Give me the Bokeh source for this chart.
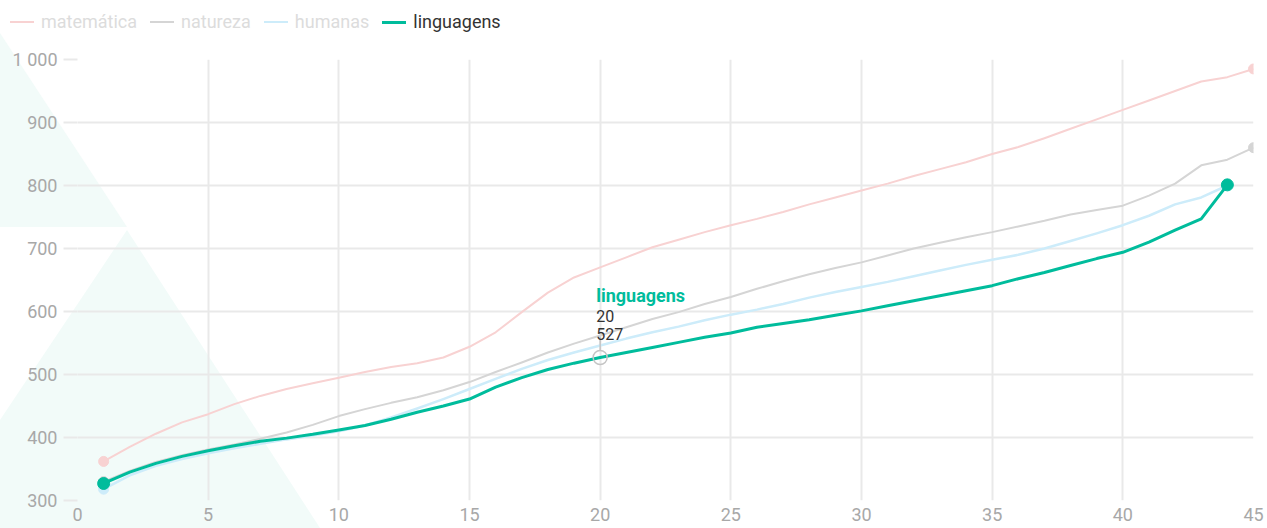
from urllib.parse import quote
from bokeh.plotting import figure
from bokeh.layouts import column
from bokeh.models import (Label, FixedTicker, Range1d, InlineStyleSheet, Div)
from bokeh.embed import file_html
from bokeh.resources import INLINE

# ---------------- data ----------------
x_all = list(range(1, 46))
matematica = [362, 385, 406, 424, 437, 453, 466, 477, 486, 495,
              504, 512, 518, 527, 544, 567, 599, 630, 654, 670,
              686, 702, 714, 726, 737, 747, 758, 770, 781, 792,
              803, 815, 826, 837, 850, 861, 875, 890, 905, 920,
              935, 950, 965, 972, 985]
natureza = [330, 347, 361, 372, 381, 389, 398, 408, 420, 434,
            445, 455, 464, 475, 488, 504, 519, 535, 549, 562,
            575, 588, 599, 612, 623, 636, 648, 659, 669, 678,
            689, 700, 709, 718, 726, 735, 744, 754, 761, 768,
            784, 803, 832, 841, 860]
humanas = [318, 340, 355, 366, 375, 383, 390, 397, 403, 410,
           419, 432, 446, 461, 477, 493, 509, 523, 535, 546,
           557, 567, 576, 586, 595, 603, 612, 622, 631, 639,
           647, 656, 665, 674, 682, 690, 700, 712, 724, 737,
           752, 770, 781, 800]
linguagens = [327, 345, 359, 370, 379, 387, 394, 399, 405, 412,
              419, 429, 440, 450, 461, 480, 495, 508, 518, 527,
              535, 543, 551, 559, 566, 575, 581, 587, 594, 601,
              609, 617, 625, 633, 641, 652, 662, 673, 684, 694,
              710, 729, 747, 801]
series_names = ["matemática", "natureza", "humanas", "linguagens"]
x_ticks = [0, 5, 10, 15, 20, 25, 30, 35, 40, 45]
y_ticks = [300, 400, 500, 600, 700, 800, 900, 1000]
y_labels = {1000: "1 000"}
focus_x, focus_y = 20, 527

# ---------------- styles ----------------
C_MAT = "#f8d2d2"
C_NAT = "#d5d5d5"
C_HUM = "#cdecfa"
C_LIN = "#00bc9c"
FONT = "Roboto"

W = 1267
H_LEG = 40
H = 488
BL, BR, BT, BB = 77, 14, 19, 28
XMIN, XMAX, YMIN, YMAX = 0, 45, 300, 1000

# decorative background (page-level), drawn with CSS behind transparent canvases
svg = ("<svg xmlns='http://www.w3.org/2000/svg' width='1267' height='528'>"
       "<polygon points='0,33 127,227 0,227' fill='rgb(242,251,249)'/>"
       "<polygon points='127,230 320,528 0,528 0,420' fill='rgb(242,251,249)'/>"
       "</svg>")
css = (":host { background-color: white; background-image: url(\"data:image/svg+xml;utf8,"
       + quote(svg) + "\"); background-repeat: no-repeat; background-size: 1267px 528px; }")

# ---------------- legend strip (HTML) ----------------
leg_specs = [(series_names[0], C_MAT, 2, "#dcdcdc"),
             (series_names[1], C_NAT, 2, "#dcdcdc"),
             (series_names[2], C_HUM, 2.5, "#dcdcdc"),
             (series_names[3], C_LIN, 3, "#333333")]
parts = []
for i, (name, col, lw, tcol) in enumerate(leg_specs):
    ml = 10 if i == 0 else 13
    parts.append(
        f"<span style='display:inline-block;width:24px;height:{lw}px;background:{col};"
        f"margin-left:{ml}px;margin-right:7px'></span>"
        f"<span style='color:{tcol};white-space:nowrap'>{name}</span>")
leg_html = ("<div style=\"display:flex;align-items:center;height:44px;margin-top:0px;"
            f"font-family:{FONT};font-size:18px;line-height:20px\">" + "".join(parts) + "</div>")
leg = Div(text=leg_html, width=W, height=H_LEG, styles={"margin": "0", "padding": "0"})

# ---------------- main chart ----------------
p = figure(width=W, height=H, output_backend="svg", toolbar_location=None,
           x_range=Range1d(XMIN, XMAX), y_range=Range1d(YMIN, YMAX),
           min_border_left=BL, min_border_right=BR, min_border_top=BT, min_border_bottom=BB)
p.outline_line_color = None
p.background_fill_color = None
p.border_fill_color = None

p.xgrid.ticker = FixedTicker(ticks=x_ticks)
p.ygrid.ticker = FixedTicker(ticks=y_ticks)
for g in (p.xgrid, p.ygrid):
    g.grid_line_color = "#e9e9e9"
    g.grid_line_width = 2

p.xaxis.ticker = FixedTicker(ticks=x_ticks)
p.yaxis.ticker = FixedTicker(ticks=y_ticks)
p.yaxis.major_label_overrides = y_labels
for ax in (p.xaxis, p.yaxis):
    ax.axis_line_color = None
    ax.minor_tick_line_color = None
    ax.major_label_text_font = FONT
    ax.major_label_text_font_size = "18px"
    ax.major_label_text_color = "#a8a8a8"
p.xaxis.major_tick_line_color = None
p.xaxis.major_tick_out = 0
p.xaxis.major_tick_in = 0
p.xaxis.major_label_standoff = 7
p.yaxis.major_tick_line_color = "#e9e9e9"
p.yaxis.major_tick_line_width = 2
p.yaxis.major_tick_out = 14
p.yaxis.major_tick_in = 0
p.yaxis.major_label_standoff = 6

def series(xs, ys, color, width, msize):
    r = p.line(xs, ys, line_color=color, line_width=width, line_join="round")
    p.scatter([xs[0], xs[-1]], [ys[0], ys[-1]], size=msize, fill_color=color,
              line_color=color)
    return r

series(x_all[:len(matematica)], matematica, C_MAT, 2, 10)
series(x_all[:len(natureza)], natureza, C_NAT, 2, 10)
series(x_all[:len(humanas)], humanas, C_HUM, 2.5, 10)
series(x_all[:len(linguagens)], linguagens, C_LIN, 3, 12)

# focus annotation
ppu = (H - BT - BB) / (YMAX - YMIN)
p.scatter([focus_x], [focus_y], size=14, fill_color=None, line_color="#c4c4c4", line_width=1.5)
p.segment(x0=[focus_x], y0=[focus_y + 7 / ppu], x1=[focus_x], y1=[focus_y + 21 / ppu],
          line_color="#c4c4c4", line_width=1.5)
p.add_layout(Label(x=focus_x, y=focus_y, x_offset=-4, y_offset=62, text=series_names[3],
                   text_font=FONT, text_font_style="bold", text_font_size="18px",
                   text_color=C_LIN, text_baseline="alphabetic"))
p.add_layout(Label(x=focus_x, y=focus_y, x_offset=-4, y_offset=41, text=str(focus_x),
                   text_font=FONT, text_font_size="16px", text_color="#333333",
                   text_baseline="alphabetic"))
p.add_layout(Label(x=focus_x, y=focus_y, x_offset=-4, y_offset=23, text=str(focus_y),
                   text_font=FONT, text_font_size="16px", text_color="#333333",
                   text_baseline="alphabetic"))

layout = column(leg, p, spacing=0, stylesheets=[InlineStyleSheet(css=css)])

open("out.html", "w").write(file_html(layout, INLINE))
